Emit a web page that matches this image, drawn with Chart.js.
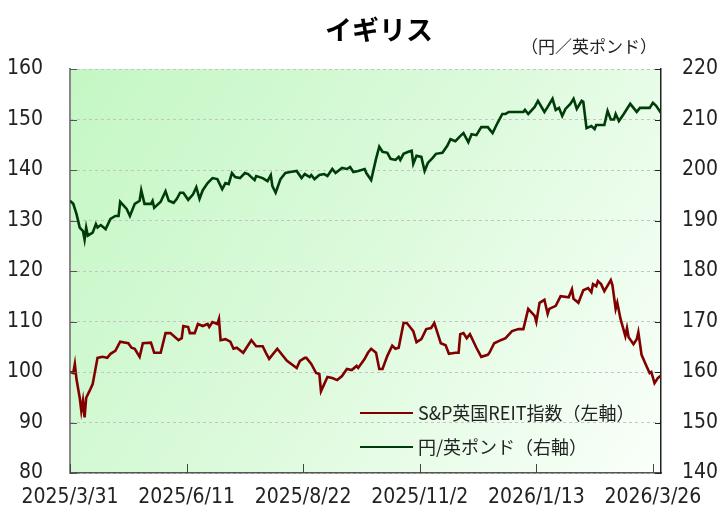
<!DOCTYPE html>
<html>
<head>
<meta charset="utf-8">
<script src="https://cdn.jsdelivr.net/npm/chart.js@4.4.1/dist/chart.umd.min.js"></script>
<style>
html,body{margin:0;padding:0;background:#fff;}
#wrap{width:717px;height:513px;position:relative;}
</style>
</head>
<body>
<div id="wrap"><canvas id="c" width="717" height="513"></canvas></div>
<script>
// ---- data (x = days since 2025/3/31) ----
const chartTitle = 'イギリス';
const unitLabel = '（円／英ポンド）';
const seriesNames = ['S&P英国REIT指数（左軸）', '円/英ポンド（右軸）'];
const dateTickLabels = ['2025/3/31','2025/6/11','2025/8/22','2025/11/2','2026/1/13','2026/3/26'];
const dateTickDays = [0, 72, 144, 216, 288, 360];
const totalDays = 365;

const reitDays = [0,2,3,4,6,7,8,9,10,12,14,17,20,23,25,28,31,36,38,40,43,45,50,52,56,59,62,67,69,70,73,74,77,79,82,85,86,88,91,92,93,96,99,101,103,107,110,112,115,119,121,123,128,134,140,142,145,146,149,152,154,155,157,159,162,165,168,171,174,177,178,182,184,186,189,191,193,196,199,201,203,206,208,210,212,214,217,220,223,225,227,229,232,234,238,240,241,243,245,247,251,254,258,259,262,266,269,273,277,280,283,287,288,290,293,295,296,300,303,308,310,311,314,317,320,322,323,325,326,328,330,334,335,337,338,340,343,344,345,348,350,351,353,356,358,359,361,363,365];
const reitValues = [100,99.8,101.6,98.6,94.9,92.3,94.3,91.0,94.9,96.2,97.6,102.8,103.0,102.8,103.6,104.2,106.0,105.7,104.8,104.6,103.0,105.7,105.8,103.8,103.8,107.7,107.7,106.3,106.7,109.1,108.9,107.7,107.7,109.5,109.1,109.5,108.9,109.9,109.5,110.5,106.3,106.5,106.0,104.6,104.8,103.8,105.3,106.3,105.1,105.1,103.8,102.6,104.6,102.2,100.8,102.2,102.8,102.8,101.6,99.8,99.6,96.2,97.6,99.0,98.8,98.4,99.2,100.6,100.4,101.2,100.8,102.6,103.8,104.6,103.8,100.6,100.6,103.2,105.2,104.6,104.8,109.7,109.7,108.9,108.1,105.9,106.5,108.5,108.7,109.7,107.7,105.7,105.3,103.6,103.8,103.8,107.5,107.7,106.7,107.5,104.8,103.0,103.4,103.8,105.7,106.3,106.7,108.1,108.5,108.5,112.5,111.1,109.9,113.7,114.3,111.5,112.5,113.1,115.0,114.8,116.4,114.5,113.7,116.2,116.6,115.8,117.4,117.0,118.0,117.4,116.0,118.2,117.2,112.5,113.7,110.5,107.1,108.7,106.9,105.5,106.5,107.9,103.4,101.2,99.8,100.0,97.8,98.8,99.3];

const fxDays = [0,2,4,6,8,9,10,11,14,16,17,19,22,25,28,30,31,35,37,40,43,44,46,50,51,52,56,59,61,64,66,68,70,73,76,78,80,82,85,88,91,94,96,98,100,102,105,108,110,114,115,119,122,124,125,127,130,133,136,140,143,145,148,149,151,154,157,159,162,164,168,171,173,175,178,182,183,186,189,191,193,196,198,201,203,204,206,209,211,212,214,217,219,221,224,226,230,233,235,238,241,243,244,246,248,251,254,258,261,264,267,269,271,280,281,283,287,289,293,295,298,300,302,304,306,309,311,313,316,317,319,322,324,325,330,332,334,336,337,339,342,346,350,352,358,360,362,365];
const fxValues = [193.9,193.3,191.3,188.6,187.9,186.2,188.6,187.0,187.6,189.3,188.6,189.1,188.3,190.3,190.9,190.9,193.7,192.3,190.9,193.3,193.9,196.0,193.3,193.3,193.9,192.5,193.7,195.8,193.9,193.5,194.3,195.5,195.5,194.1,195.2,196.6,194.3,196.0,197.4,198.4,198.2,196.2,197.4,197.2,199.4,198.6,198.4,199.4,199.2,198.0,198.8,198.4,197.8,199.0,196.8,195.5,198.2,199.4,199.6,199.8,198.4,199.2,198.6,199.0,198.2,199.0,199.2,198.8,200.2,199.4,200.4,200.2,200.6,199.6,199.8,200.2,199.4,198.0,202.2,204.6,203.6,203.4,202.2,202.0,202.6,202.0,203.2,203.6,203.8,201.2,202.8,202.6,199.8,201.4,202.4,203.2,203.4,204.8,206.1,205.7,206.7,207.3,206.7,205.5,207.1,206.9,208.5,208.5,207.3,209.3,211.1,211.1,211.5,211.5,211.9,211.1,212.5,213.7,211.5,212.5,214.1,211.9,212.3,210.7,212.1,213.1,214.1,212.1,213.7,213.5,208.3,208.7,208.1,208.9,208.9,211.7,210.0,210.0,211.1,209.7,211.1,213.1,211.5,212.3,212.3,213.3,212.7,211.3];

const leftTicks = {min: 80, max: 160, step: 10};
const rightTicks = {min: 140, max: 220, step: 10};

// ---- build ----
const toPts = (xs, ys) => xs.map((d, i) => ({x: d, y: ys[i]}));
const TICK_FONT = {family: "'Liberation Sans Narrow','DejaVu Sans Condensed','DejaVu Sans',sans-serif", size: 21};
const CJK = "'Noto Sans CJK JP','Noto Sans',sans-serif";

const bgPlugin = {
  id: 'bg',
  beforeDraw(chart) {
    const {ctx, chartArea: a} = chart;
    const g = ctx.createLinearGradient(a.left, a.top, a.right, a.bottom);
    g.addColorStop(0, '#c4f7c4');
    g.addColorStop(0.5, '#dcfadc');
    g.addColorStop(1, '#fafffa');
    ctx.save();
    ctx.fillStyle = g;
    ctx.fillRect(a.left, a.top, a.right - a.left, a.bottom - a.top);
    ctx.restore();
  }
};

const decoPlugin = {
  id: 'deco',
  afterDraw(chart) {
    const {ctx, chartArea: a, scales} = chart;
    ctx.save();
    // inward ticks
    ctx.lineWidth = 1;
    ctx.strokeStyle = '#555';
    scales.y.ticks.forEach(t => {
      const y = Math.round(scales.y.getPixelForValue(t.value)) + 0.5;
      ctx.beginPath(); ctx.moveTo(a.left, y); ctx.lineTo(a.left + 7, y); ctx.stroke();
    });
    ctx.strokeStyle = '#222';
    scales.y1.ticks.forEach(t => {
      const y = Math.round(scales.y1.getPixelForValue(t.value)) + 0.5;
      ctx.beginPath(); ctx.moveTo(a.right - 6, y); ctx.lineTo(a.right, y); ctx.stroke();
    });
    ctx.strokeStyle = '#444';
    scales.x.ticks.forEach(t => {
      const x = Math.round(scales.x.getPixelForValue(t.value)) + 0.5;
      ctx.beginPath(); ctx.moveTo(x, a.bottom); ctx.lineTo(x, a.bottom - 9); ctx.stroke();
    });
    // title
    ctx.fillStyle = '#000';
    ctx.textAlign = 'center';
    ctx.textBaseline = 'middle';
    ctx.font = "bold 27px " + CJK;
    ctx.fillText(chartTitle, 379, 30);
    // unit
    ctx.font = "17px " + CJK;
    ctx.textAlign = 'right';
    ctx.fillStyle = '#222';
    ctx.fillText(unitLabel, 657, 47);
    // legend
    const ds = chart.data.datasets;
    const rows = [413, 447];
    ctx.textAlign = 'left';
    ctx.font = "18px " + CJK;
    ds.forEach((d, i) => {
      ctx.strokeStyle = d.borderColor;
      ctx.lineWidth = 2;
      ctx.beginPath(); ctx.moveTo(360, rows[i]); ctx.lineTo(413, rows[i]); ctx.stroke();
      ctx.fillStyle = '#222';
      ctx.fillText(d.label, 418, rows[i]);
    });
    ctx.restore();
  }
};

new Chart(document.getElementById('c'), {
  type: 'line',
  data: {
    datasets: [
      {label: seriesNames[0], data: toPts(reitDays, reitValues), yAxisID: 'y',
       borderColor: '#800000', borderWidth: 2.6, pointRadius: 0, tension: 0},
      {label: seriesNames[1], data: toPts(fxDays, fxValues), yAxisID: 'y1',
       borderColor: '#003c0a', borderWidth: 2.6, pointRadius: 0, tension: 0}
    ]
  },
  options: {
    responsive: false,
    animation: false,
    layout: {padding: {top: 69, left: 0, right: 0, bottom: 0}},
    plugins: {legend: {display: false}, tooltip: {enabled: false}, title: {display: false}},
    scales: {
      x: {
        type: 'linear', min: 0, max: totalDays,
        afterBuildTicks: s => { s.ticks = dateTickDays.map(v => ({value: v})); },
        afterFit: s => { s.height = 40; },
        ticks: {
          callback: (v) => dateTickLabels[dateTickDays.indexOf(v)],
          font: TICK_FONT, color: '#222', padding: 12, maxRotation: 0, autoSkip: false
        },
        grid: {drawOnChartArea: false, drawTicks: false},
        border: {color: '#555', width: 1.5}
      },
      y: {
        position: 'left', min: leftTicks.min, max: leftTicks.max,
        ticks: {stepSize: leftTicks.step, font: TICK_FONT, color: '#222', padding: 27},
        afterFit: s => { s.width = 70; },
        grid: {color: '#c4c4c4', lineWidth: 1, drawTicks: false},
        border: {color: '#888', width: 2, dash: [3, 3]}
      },
      y1: {
        position: 'right', min: rightTicks.min, max: rightTicks.max,
        ticks: {stepSize: rightTicks.step, font: TICK_FONT, color: '#222', padding: 21},
        afterFit: s => { s.width = 56; },
        grid: {drawOnChartArea: false, drawTicks: false},
        border: {color: '#222', width: 1.5}
      }
    }
  },
  plugins: [bgPlugin, decoPlugin]
});
</script>
</body>
</html>
